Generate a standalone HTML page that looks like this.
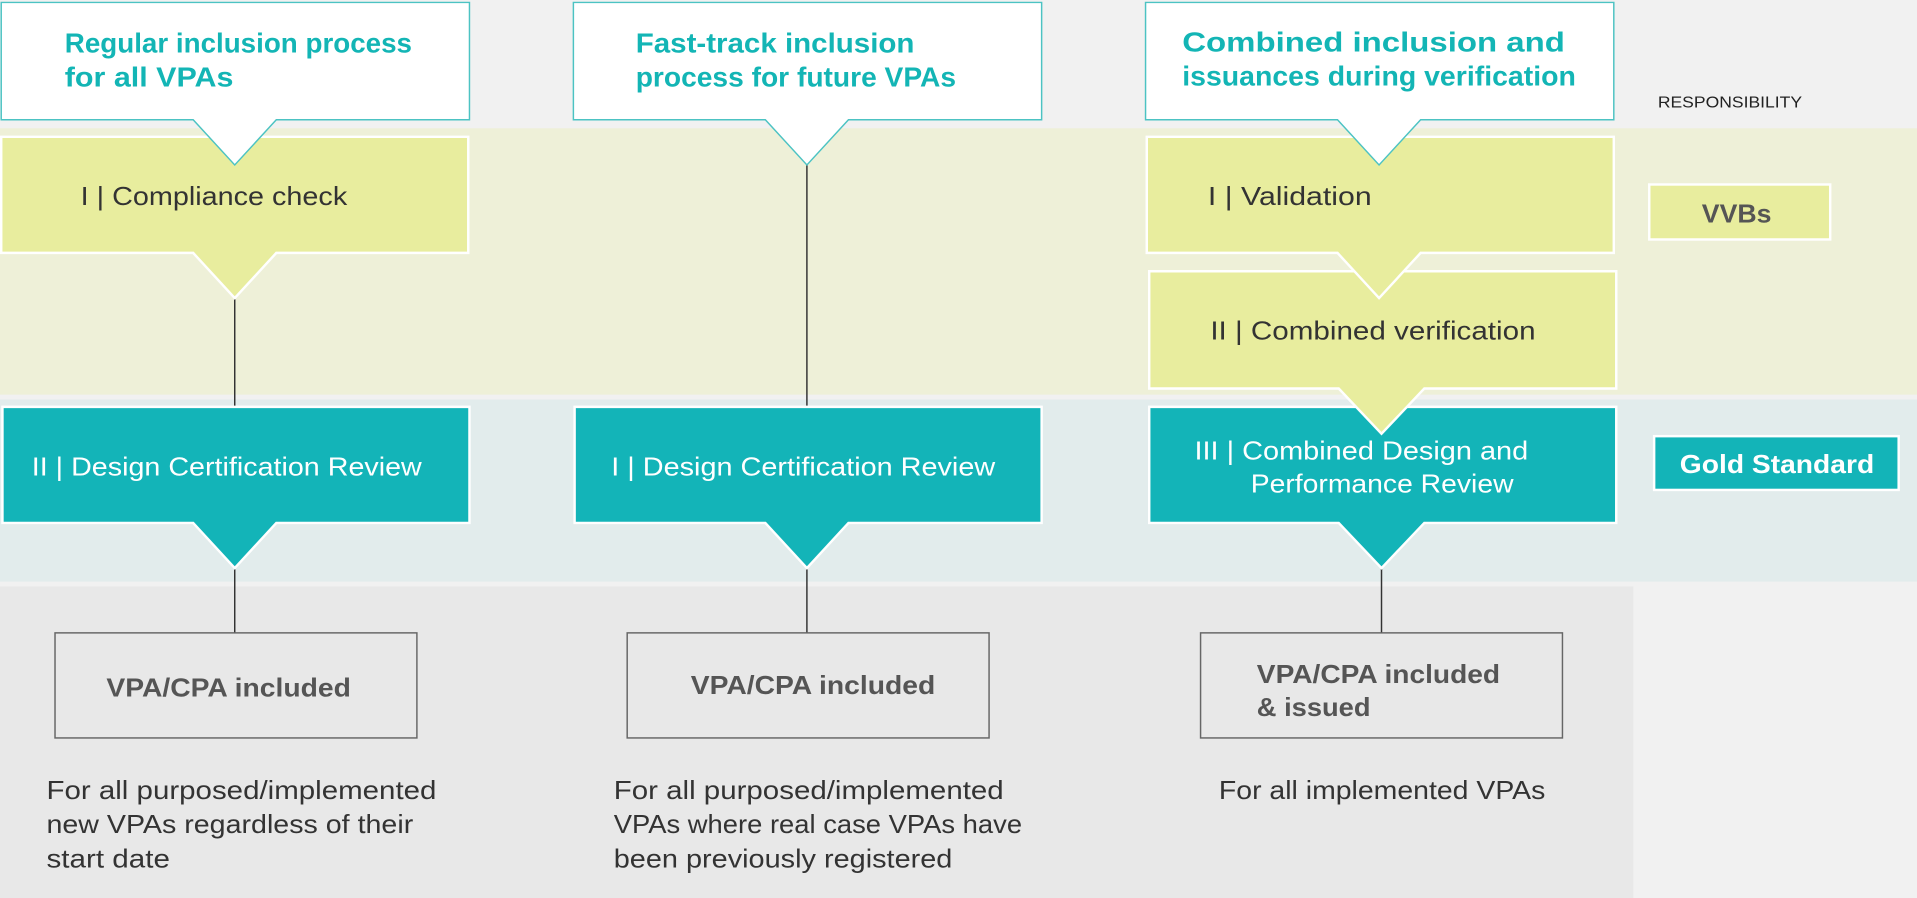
<!DOCTYPE html>
<html><head><meta charset="utf-8"><style>
html,body{margin:0;padding:0;background:#f1f1f1;overflow:hidden}
svg{display:block}
text{font-family:"Liberation Sans",sans-serif}
</style></head><body>
<svg width="1917" height="898" viewBox="0 0 1568 735" preserveAspectRatio="none" xmlns="http://www.w3.org/2000/svg">
<rect x="0" y="0" width="1568" height="735" fill="#f1f1f1"/>
<rect x="0" y="105" width="1568" height="218" fill="#eef0d8"/>
<rect x="0" y="327" width="1568" height="149" fill="#e2ecec"/>
<rect x="0" y="480" width="1336" height="255" fill="#e8e8e8"/>

<g stroke="#333" stroke-width="1.2">
<line x1="192" y1="244" x2="192" y2="333"/>
<line x1="192" y1="465" x2="192" y2="518"/>
<line x1="660" y1="135" x2="660" y2="333"/>
<line x1="660" y1="465" x2="660" y2="518"/>
<line x1="1130" y1="465" x2="1130" y2="518"/>
</g>

<!-- teal boxes -->
<g fill="#13b4b8" stroke="#fff" stroke-width="2">
<path d="M2 333 H384 V428 H226 L192 465 L158 428 H2 Z"/>
<path d="M470 333 H852 V428 H694 L660 465 L626 428 H470 Z"/>
<path d="M940 333 H1322 V428 H1165 L1130 465 L1095 428 H940 Z"/>
</g>
<!-- yellow boxes -->
<g fill="#e8ed9e" stroke="#fff" stroke-width="2">
<path d="M1 112 H383 V207 H226 L192 244 L158 207 H1 Z"/>
<path d="M940 222 H1322 V318 H1165 L1130 355 L1095 318 H940 Z"/>
<path d="M938 112 H1320 V207 H1162 L1128 244 L1094 207 H938 Z"/>
</g>

<!-- header boxes -->
<g fill="#fff" stroke="#4cc3c3" stroke-width="1.2">
<path d="M1 2 H384 V98 H226 L192 135 L158 98 H1 Z"/>
<path d="M469 2 H852 V98 H694 L660 135 L626 98 H469 Z"/>
<path d="M937 2 H1320 V98 H1162 L1128 135 L1094 98 H937 Z"/>
</g>
<g fill="#13b5b5" font-weight="bold" font-size="23" lengthAdjust="spacingAndGlyphs">
<text x="53" y="43" textLength="284" lengthAdjust="spacingAndGlyphs">Regular inclusion process</text>
<text x="53" y="71" textLength="138" lengthAdjust="spacingAndGlyphs">for all VPAs</text>
<text x="520" y="43" textLength="228" lengthAdjust="spacingAndGlyphs">Fast-track inclusion</text>
<text x="520" y="71" textLength="262" lengthAdjust="spacingAndGlyphs">process for future VPAs</text>
<text x="967" y="42" textLength="313" lengthAdjust="spacingAndGlyphs">Combined inclusion and</text>
<text x="967" y="70" textLength="322" lengthAdjust="spacingAndGlyphs">issuances during verification</text>
</g>
<text x="1356" y="88" font-size="13" fill="#222" textLength="118" lengthAdjust="spacingAndGlyphs">RESPONSIBILITY</text>

<g font-size="21" fill="#333">
<text x="66" y="168" textLength="218" lengthAdjust="spacingAndGlyphs">I | Compliance check</text>
<text x="988" y="168" textLength="134" lengthAdjust="spacingAndGlyphs">I | Validation</text>
<text x="990" y="278" textLength="266" lengthAdjust="spacingAndGlyphs">II | Combined verification</text>
</g>
<g font-size="21" fill="#fff">
<text x="26" y="389" textLength="319" lengthAdjust="spacingAndGlyphs">II | Design Certification Review</text>
<text x="500" y="389" textLength="314" lengthAdjust="spacingAndGlyphs">I | Design Certification Review</text>
<text x="977" y="376" textLength="273" lengthAdjust="spacingAndGlyphs">III | Combined Design and</text>
<text x="1023" y="403" textLength="215" lengthAdjust="spacingAndGlyphs">Performance Review</text>
</g>

<rect x="1349" y="151" width="148" height="45" fill="#e8ed9e" stroke="#fff" stroke-width="2"/>
<text x="1392" y="182" font-size="21" font-weight="bold" fill="#555" textLength="57" lengthAdjust="spacingAndGlyphs">VVBs</text>
<rect x="1353" y="357" width="200" height="44" fill="#13b4b8" stroke="#fff" stroke-width="2"/>
<text x="1374" y="387" font-size="21" font-weight="bold" fill="#fff" textLength="159" lengthAdjust="spacingAndGlyphs">Gold Standard</text>

<g fill="#e8e8e8" stroke="#666" stroke-width="1.2">
<rect x="45" y="518" width="296" height="86"/>
<rect x="513" y="518" width="296" height="86"/>
<rect x="982" y="518" width="296" height="86"/>
</g>
<g font-size="21" font-weight="bold" fill="#555">
<text x="87" y="570" textLength="200" lengthAdjust="spacingAndGlyphs">VPA/CPA included</text>
<text x="565" y="568" textLength="200" lengthAdjust="spacingAndGlyphs">VPA/CPA included</text>
<text x="1028" y="559" textLength="199" lengthAdjust="spacingAndGlyphs">VPA/CPA included</text>
<text x="1028" y="586" textLength="93" lengthAdjust="spacingAndGlyphs">&amp; issued</text>
</g>
<g font-size="21" fill="#333">
<text x="38" y="654" textLength="319" lengthAdjust="spacingAndGlyphs">For all purposed/implemented</text>
<text x="38" y="682" textLength="300" lengthAdjust="spacingAndGlyphs">new VPAs regardless of their</text>
<text x="38" y="710" textLength="101" lengthAdjust="spacingAndGlyphs">start date</text>
<text x="502" y="654" textLength="319" lengthAdjust="spacingAndGlyphs">For all purposed/implemented</text>
<text x="502" y="682" textLength="334" lengthAdjust="spacingAndGlyphs">VPAs where real case VPAs have</text>
<text x="502" y="710" textLength="277" lengthAdjust="spacingAndGlyphs">been previously registered</text>
<text x="997" y="654" textLength="267" lengthAdjust="spacingAndGlyphs">For all implemented VPAs</text>
</g>
</svg>
</body></html>
